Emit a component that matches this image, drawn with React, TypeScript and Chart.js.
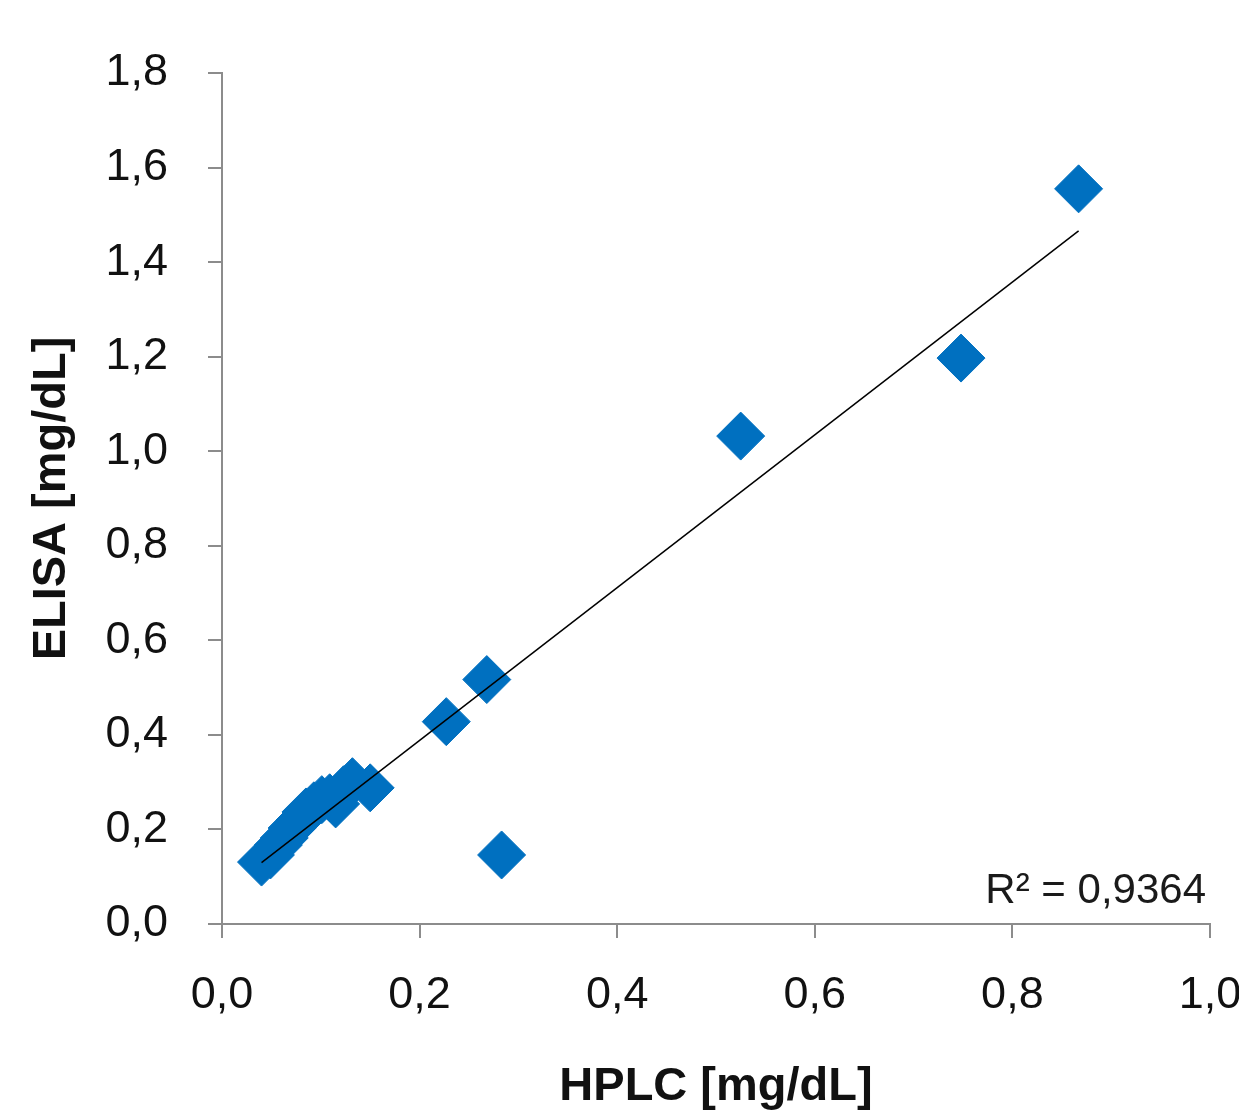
import React, { useEffect, useRef } from "react";
import { Chart, registerables } from "chart.js";

Chart.register(...registerables);

// HPLC (x) vs ELISA (y), mg/dL
const hplcValues = [
  0.040, 0.049, 0.057, 0.063, 0.071, 0.079, 0.085, 0.093, 0.101, 0.109, 0.115, 0.123, 0.132, 0.150,
  0.227, 0.268, 0.283, 0.525, 0.748, 0.867,
];
const elisaValues = [
  0.131, 0.146, 0.167, 0.182, 0.203, 0.220, 0.237, 0.250, 0.263, 0.267, 0.254, 0.284, 0.301, 0.288,
  0.428, 0.517, 0.146, 1.032, 1.197, 1.555,
];
const xTicks = [0, 0.2, 0.4, 0.6, 0.8, 1.0];
const yTicks = [0, 0.2, 0.4, 0.6, 0.8, 1.0, 1.2, 1.4, 1.6, 1.8];
const xTitle = "HPLC [mg/dL]";
const yTitle = "ELISA [mg/dL]";
const r2Label = "R² = 0,9364";

function linearFit(xs: number[], ys: number[]) {
  const n = xs.length;
  const mx = xs.reduce((a, b) => a + b, 0) / n;
  const my = ys.reduce((a, b) => a + b, 0) / n;
  let sxy = 0;
  let sxx = 0;
  for (let i = 0; i < n; i++) {
    sxy += (xs[i] - mx) * (ys[i] - my);
    sxx += (xs[i] - mx) * (xs[i] - mx);
  }
  const slope = sxy / sxx;
  return { slope, intercept: my - slope * mx };
}

const fmt = (v: number) => v.toFixed(1).replace(".", ",");

export default function App() {
  const ref = useRef<HTMLCanvasElement | null>(null);

  useEffect(() => {
    if (!ref.current) return;
    const points = hplcValues.map((x, i) => ({ x, y: elisaValues[i] }));
    const fit = linearFit(hplcValues, elisaValues);
    const xMin = Math.min(...hplcValues);
    const xMax = Math.max(...hplcValues);
    const trend = [
      { x: xMin, y: fit.intercept + fit.slope * xMin },
      { x: xMax, y: fit.intercept + fit.slope * xMax },
    ];

    const r2Plugin = {
      id: "r2label",
      afterDatasetsDraw(chart: any) {
        const { ctx, chartArea } = chart;
        ctx.save();
        ctx.font = "42px 'Liberation Sans', Arial, sans-serif";
        ctx.fillStyle = "#1a1a1a";
        ctx.textAlign = "right";
        ctx.textBaseline = "alphabetic";
        ctx.fillText(r2Label, chartArea.right - 4, chartArea.bottom - 21);
        ctx.restore();
      },
    };

    const tickFont = { family: "'Liberation Sans', Arial, sans-serif", size: 45 };
    const titleFont = { family: "'Liberation Sans', Arial, sans-serif", size: 47, weight: "bold" as const };
    const axisGray = "#8c8c8c";

    const chart = new Chart(ref.current, {
      type: "scatter",
      data: {
        datasets: [
          {
            type: "line",
            data: trend,
            borderColor: "#000000",
            borderWidth: 1.5,
            pointRadius: 0,
            fill: false,
            order: 0,
          } as any,
          {
            type: "scatter",
            data: points,
            pointStyle: "rectRot",
            pointRadius: 24,
            backgroundColor: "#0070C0",
            borderColor: "#0070C0",
            borderWidth: 1,
            order: 1,
          },
        ],
      },
      options: {
        responsive: false,
        animation: false,
        layout: { padding: { top: 73, right: 29, left: 0, bottom: 0 } },
        plugins: {
          legend: { display: false },
          tooltip: { enabled: false },
        },
        scales: {
          x: {
            type: "linear",
            min: 0,
            max: 1.0,
            afterBuildTicks: (s: any) => {
              s.ticks = xTicks.map((v) => ({ value: v }));
            },
            afterFit: (s: any) => {
              s.height = 191;
              s.paddingLeft = 0;
              s.paddingRight = 0;
            },
            ticks: {
              font: tickFont,
              color: "#111111",
              padding: 31,
              maxRotation: 0,
              callback: (v: any) => fmt(Number(v)),
            },
            grid: {
              display: true,
              drawOnChartArea: false,
              drawTicks: true,
              tickLength: 14,
              tickColor: axisGray,
              lineWidth: 2,
            },
            border: { display: true, color: axisGray, width: 2 },
            title: {
              display: true,
              text: xTitle,
              font: titleFont,
              color: "#111111",
              padding: { top: 0, bottom: 0 },
            },
          },
          y: {
            type: "linear",
            min: 0,
            max: 1.8,
            afterBuildTicks: (s: any) => {
              s.ticks = yTicks.map((v) => ({ value: v }));
            },
            afterFit: (s: any) => {
              s.width = 222;
              s.paddingTop = 0;
              s.paddingBottom = 0;
            },
            ticks: {
              font: tickFont,
              color: "#111111",
              padding: 40,
              callback: (v: any) => fmt(Number(v)),
            },
            grid: {
              display: true,
              drawOnChartArea: false,
              drawTicks: true,
              tickLength: 14,
              tickColor: axisGray,
              lineWidth: 2,
            },
            border: { display: true, color: axisGray, width: 2 },
            title: {
              display: true,
              text: yTitle,
              font: titleFont,
              color: "#111111",
              padding: { top: 24, bottom: 0 },
            },
          },
        },
      },
      plugins: [r2Plugin],
    });

    return () => chart.destroy();
  }, []);

  return (
    <div style={{ position: "absolute", left: 0, top: 0, width: 1239, height: 1115, background: "#ffffff" }}>
      <canvas ref={ref} width={1239} height={1115} style={{ display: "block" }} />
    </div>
  );
}
